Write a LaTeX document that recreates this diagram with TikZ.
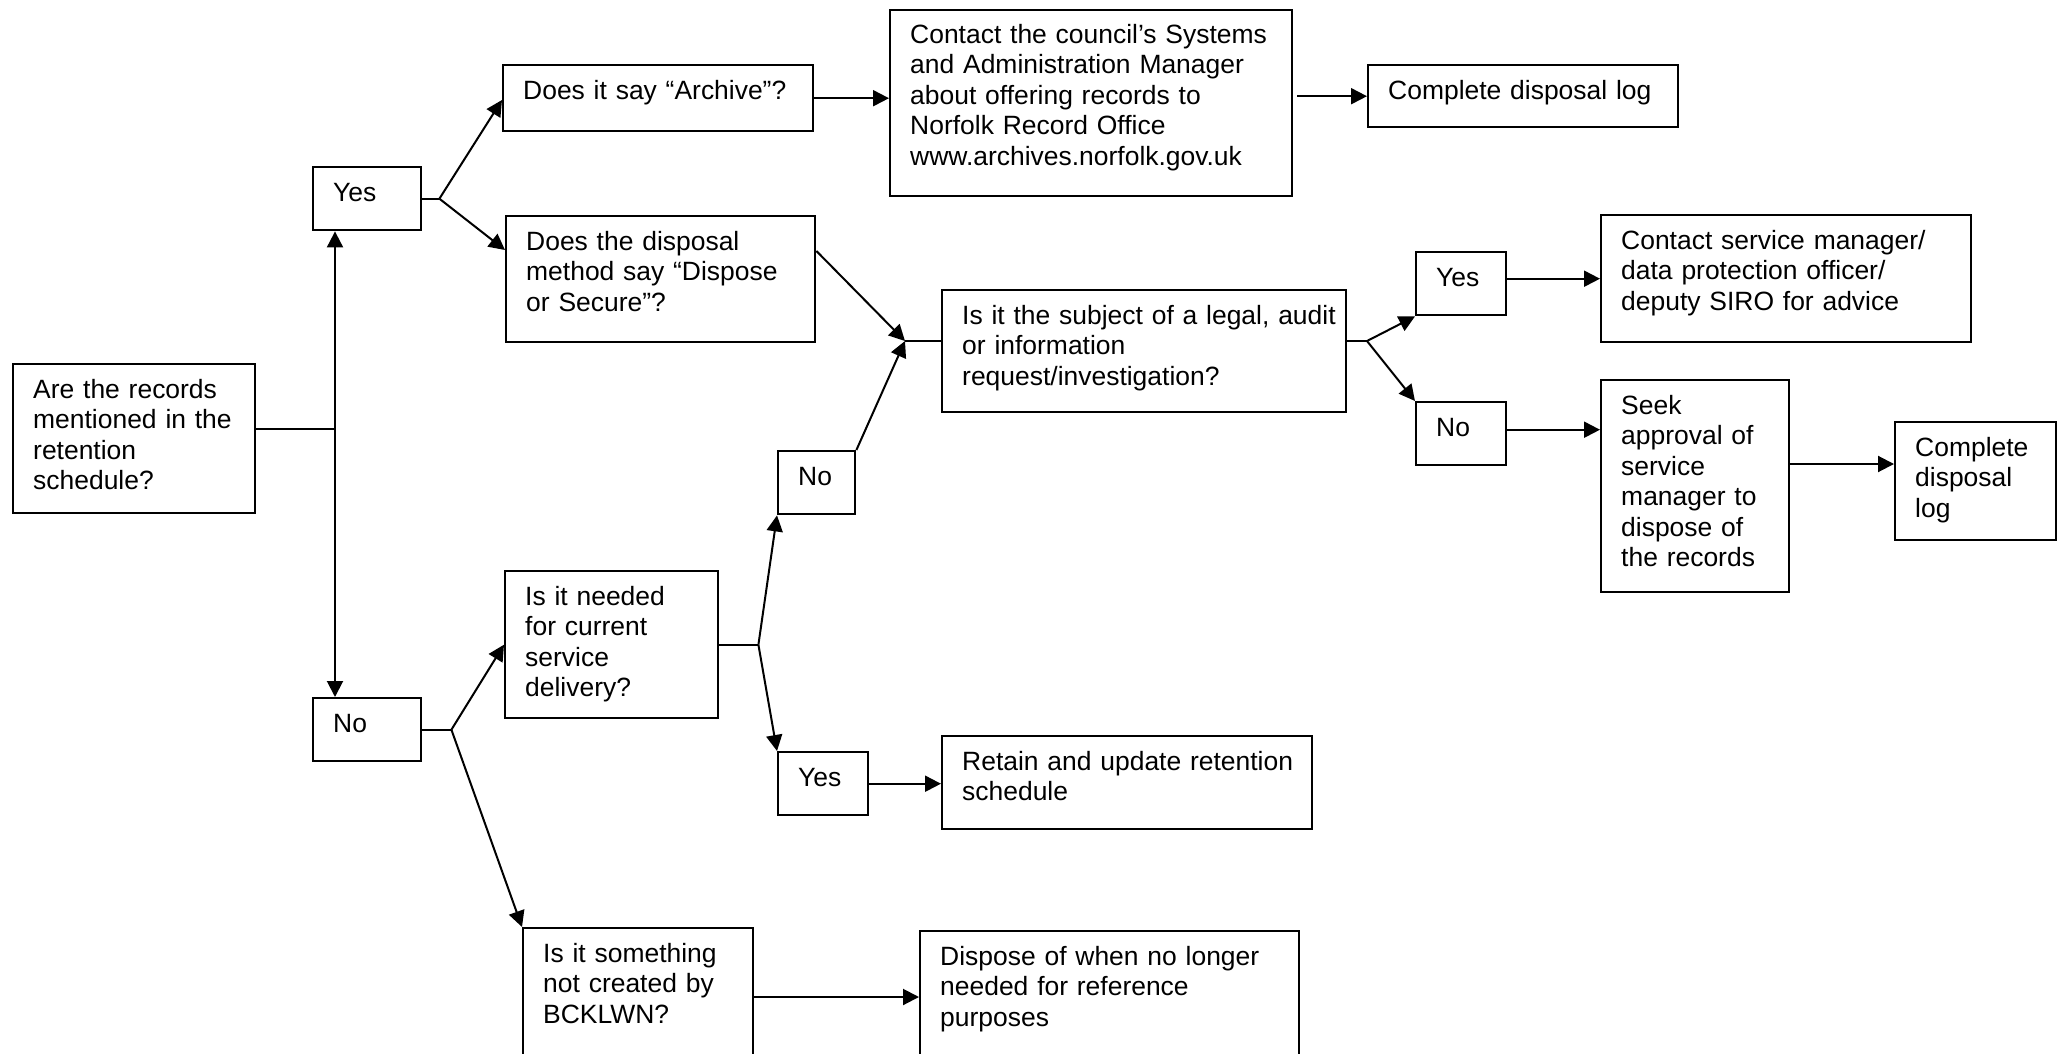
\documentclass[tikz,border=0pt]{standalone}
\usepackage{fontspec}
\setmainfont{Liberation Sans}
\usetikzlibrary{arrows.meta,calc}
\newcommand\diagfont{\fontsize{26.45pt}{30.5pt}\selectfont}
\begin{document}
\begin{tikzpicture}[x=1pt,y=-1pt,
  box/.style={draw, line width=2.4pt, anchor=north west, inner xsep=0pt, inner ysep=0pt,
    align=left, text height=34pt, font=\diagfont,
    execute at begin node={\leftskip=20pt\relax}},
  conn/.style={line width=2pt},
  arr/.style={conn, -{Triangle[length=16pt,width=16pt]}}]
\path[use as bounding box] (0,0) rectangle (2063,1054);
\clip (0,0) rectangle (2063,1054);
\fill[white] (0,0) rectangle (2063,1054);

% boxes
\node[box, text width=242pt, text depth=115pt] (A) at (12,363)
  {Are the records\\mentioned in the\\retention\\schedule?};
\node[box, text width=108pt, text depth=29pt] (Yes1) at (312,166) {Yes};
\node[box, text width=108pt, text depth=29pt] (No1) at (312,697) {No};
\node[box, text width=310pt, text depth=32pt] (Arch) at (502,64) {Does it say “Archive”?};
\node[box, text width=309pt, text depth=92pt] (Disp) at (505,215)
  {Does the disposal\\method say “Dispose\\or Secure”?};
\node[box, text width=402pt, text height=33pt, text depth=153pt] (Council) at (889,9)
  {Contact the council’s Systems\\and Administration Manager\\about offering records to\\Norfolk Record Office\\www.archives.norfolk.gov.uk};
\node[box, text width=310pt, text depth=28pt] (Log1) at (1367,64) {Complete disposal log};
\node[box, text width=404pt, text depth=88pt] (Legal) at (941,289)
  {Is it the subject of a legal, audit\\or information\\request/investigation?};
\node[box, text width=77pt, text depth=29pt] (No2) at (777,450) {No};
\node[box, text width=213pt, text depth=113pt] (Need) at (504,570)
  {Is it needed\\for current\\service\\delivery?};
\node[box, text width=90pt, text depth=29pt] (Yes2) at (777,751) {Yes};
\node[box, text width=370pt, text depth=59pt] (Retain) at (941,735)
  {Retain and update retention\\schedule};
\node[box, text width=230pt, text depth=116pt] (NotCr) at (522,927)
  {Is it something\\not created by\\BCKLWN?};
\node[box, text width=379pt, text depth=116pt] (DispOf) at (919,930)
  {Dispose of when no longer\\needed for reference\\purposes};
\node[box, text width=90pt, text depth=29pt] (Yes3) at (1415,251) {Yes};
\node[box, text width=370pt, text depth=93pt] (SvcMgr) at (1600,214)
  {Contact service manager/\\data protection officer/\\deputy SIRO for advice};
\node[box, text width=90pt, text depth=29pt] (No3) at (1415,401) {No};
\node[box, text width=188pt, text depth=178pt] (Seek) at (1600,379)
  {Seek\\approval of\\service\\manager to\\dispose of\\the records};
\node[box, text width=161pt, text depth=84pt] (Log2) at (1894,421)
  {Complete\\disposal\\log};

% junctions
\coordinate (j1) at (335,429);
\coordinate (j2) at ([xshift=17pt]Yes1.east);
\coordinate (m1) at (905,341);
\coordinate (j3) at ([xshift=39pt]Need.east);
\coordinate (j4) at ([xshift=29pt]No1.east);
\coordinate (j5) at (1367,341);

% connectors
\draw[conn] (A.east |- j1) -- (j1);
\draw[arr] (j1) -- (j1 |- Yes1.south);
\draw[arr] (j1) -- (j1 |- No1.north);

\draw[conn] (Yes1.east) -- (j2);
\draw[arr] (j2) -- ([yshift=-36pt]Arch.north west);
\draw[arr] (j2) -- ([yshift=-35pt]Disp.north west);

\draw[arr] (Arch.east) -- (Arch.east -| Council.west);
\draw[arr] ([xshift=4pt]Council.east |- Log1.west) -- (Log1.west);

\draw[arr] ([yshift=-36pt]Disp.north east) -- (m1);
\draw[arr] (No2.north east) -- (m1);
\draw[conn] (m1) -- (m1 -| Legal.west);

\draw[conn] (Need.east) -- (j3);
\draw[arr] (j3) -- (No2.south west);
\draw[arr] (j3) -- (Yes2.north west);
\draw[arr] (Yes2.east) -- (Yes2.east -| Retain.west);

\draw[conn] (No1.east) -- (j4);
\draw[arr] (j4) -- (Need.west);
\draw[arr] (j4) -- (NotCr.north west);
\draw[arr] ([yshift=-70pt]NotCr.north east) -- ([yshift=-70pt]NotCr.north east -| DispOf.west);

\draw[conn] (m1 -| Legal.east) -- (j5);
\draw[arr] (j5) -- (Yes3.south west);
\draw[arr] (j5) -- (No3.north west);
\draw[arr] ([yshift=5pt]Yes3.east) -- ([yshift=5pt]Yes3.east -| SvcMgr.west);
\draw[arr] ([yshift=4pt]No3.east) -- ([yshift=4pt]No3.east -| Seek.west);
\draw[arr] ([yshift=-85pt]Seek.north east) -- ([yshift=-85pt]Seek.north east -| Log2.west);
\end{tikzpicture}
\end{document}
